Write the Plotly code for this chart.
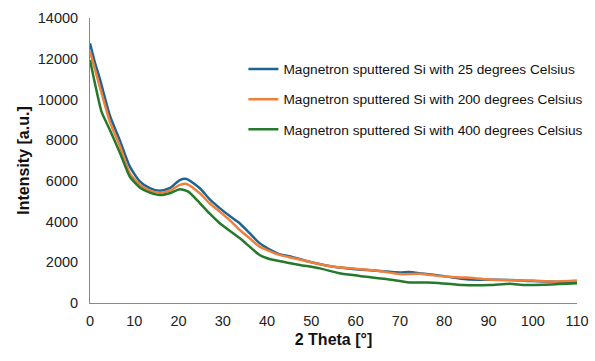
import plotly.graph_objects as go

x_25 = [0, 1, 2.3, 4.5, 6.8, 9, 11.3, 13.5, 15.8, 18, 20.3, 21.8, 24.8, 27, 29.3, 31.5, 33.8, 36, 38.3,
        40, 43, 45, 50, 55, 60, 65, 70, 72, 75, 80, 85, 90, 95, 100, 105, 110]
y_25 = [12760, 11900, 10950, 9200, 7950, 6700, 5960, 5640, 5510, 5640, 6040, 6090, 5640, 5100, 4660, 4280, 3920, 3440, 2940,
        2700, 2380, 2300, 2000, 1780, 1660, 1580, 1500, 1520, 1450, 1320, 1170, 1140, 1130, 1080, 1040, 1020]

x_200 = [0, 2.3, 4.5, 6.8, 9, 11.3, 13.5, 15.8, 18, 20.3, 21.8, 24.8, 27, 29.3, 31.5, 33.8, 36, 38.3,
         40, 43, 45, 50, 55, 60, 65, 70, 75, 80, 85, 90, 95, 100, 105, 110]
y_200 = [12350, 10550, 8900, 7680, 6370, 5800, 5520, 5420, 5520, 5800, 5850, 5390, 4900, 4490, 4080, 3590, 3190, 2770,
         2600, 2350, 2250, 2000, 1780, 1680, 1580, 1420, 1430, 1300, 1250, 1160, 1120, 1100, 1050, 1100]

x_400 = [0, 1.1, 2.6, 4.5, 6.8, 9, 11.3, 13.5, 15.8, 18, 20.3, 22.2, 24.8, 27, 29.3, 33.8, 38.3,
         40, 43, 47.4, 51.9, 56.4, 60.9, 66.9, 72.1, 77.5, 84.3, 90.3, 94.8, 98.6, 110]
y_400 = [11940, 10800, 9400, 8500, 7360, 6200, 5660, 5420, 5300, 5390, 5590, 5470, 4910, 4400, 3920, 3190, 2360,
         2200, 2050, 1870, 1700, 1460, 1330, 1180, 1010, 1000, 880, 880, 940, 880, 970]

names = ["Magnetron sputtered Si with 25 degrees Celsius",
         "Magnetron sputtered Si with 200 degrees Celsius",
         "Magnetron sputtered Si with 400 degrees Celsius"]
colors = ["#1f6391", "#f07f3c", "#25792a"]

x_ticks = list(range(0, 111, 10))
y_ticks = list(range(0, 14001, 2000))

fig = go.Figure()
for i, (xs, ys) in enumerate([(x_25, y_25), (x_200, y_200), (x_400, y_400)]):
    fig.add_trace(go.Scatter(x=xs, y=ys, mode="lines", name=names[i], legendgroup=f"g{i}",
                             line=dict(color=colors[i], width=2.5, shape="spline", smoothing=0.6)))

font = "Liberation Sans, Arial, sans-serif"
fig.update_layout(
    width=595, height=361,
    margin=dict(l=90, r=18, t=18, b=58, autoexpand=False),
    paper_bgcolor="white", plot_bgcolor="white",
    font=dict(family=font, size=14.5, color="#222"),
    showlegend=True,
    legend=dict(x=0.315, y=0.875, xanchor="left", yanchor="top", font=dict(size=13.7, color="#111"),
                tracegroupgap=9.3, itemwidth=30, bgcolor="rgba(0,0,0,0)"),
    xaxis=dict(range=[0, 110], tickvals=x_ticks, showgrid=False, zeroline=False, showline=True,
               linecolor="#888", linewidth=1, ticks="", tickfont=dict(size=14.5, color="#222"),
               ticklabelstandoff=5, automargin=False,
               title=dict(text="<b>2 Theta [°]</b>", font=dict(size=16, color="#111"), standoff=5)),
    yaxis=dict(range=[0, 14000], tickvals=y_ticks, tickformat="d", showgrid=False, zeroline=False, showline=True,
               linecolor="#888", linewidth=1, ticks="", tickfont=dict(size=14.5, color="#222"),
               ticklabelstandoff=8, automargin=False,
               title=dict(text="<b>Intensity [a.u.]</b>", font=dict(size=16, color="#111"), standoff=4)),
)
fig.write_html("out.html")
